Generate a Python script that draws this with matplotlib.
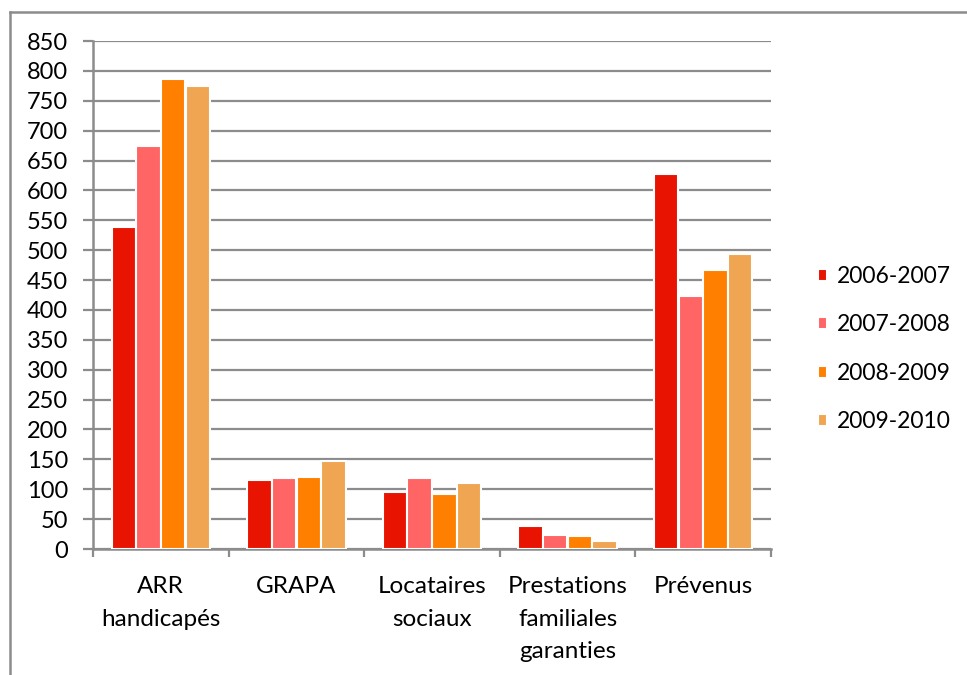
import numpy as np
import matplotlib
matplotlib.use("Agg")
import matplotlib.pyplot as plt
from matplotlib.lines import Line2D

plt.rcParams['font.family'] = ['Lato', 'DejaVu Sans']

categories = ["ARR\nhandicapés", "GRAPA", "Locataires\nsociaux",
              "Prestations\nfamiliales\ngaranties", "Prévenus"]
years = ["2006-2007", "2007-2008", "2008-2009", "2009-2010"]
values = {
    "2006-2007": [539, 115, 96, 39, 628],
    "2007-2008": [674, 118, 118, 24, 424],
    "2008-2009": [787, 120, 92, 21, 466],
    "2009-2010": [775, 148, 110, 13, 493],
}
colors = ["#E81300", "#FF6565", "#FF8000", "#F0A552"]
yticks = list(range(0, 851, 50))

W, H = 967, 675
fig = plt.figure(figsize=(W / 100, H / 100), dpi=100)
ax = fig.add_axes([93 / W, 1 - 549 / H, (771 - 93) / W, (549 - 41) / H])

x = np.arange(len(categories))
step = 0.182
width = 0.18
for i, (yr, c) in enumerate(zip(years, colors)):
    ax.bar(x + (i - 1.5) * step, values[yr], width=width, color=c,
           edgecolor="white", linewidth=1.5, label=yr, zorder=3)

grey = "#8C8C8C"
ax.set_xlim(-0.5, len(categories) - 0.5)
ax.set_ylim(0, 850)
ax.set_yticks(yticks)
ax.yaxis.grid(True, color=grey, linewidth=1.6, zorder=0)
ax.set_axisbelow(True)

ax.set_xticks(x)
ax.set_xticklabels(categories)
for t in ax.get_xticklabels():
    t.set_linespacing(1.68)
ax.set_xticks(np.arange(-0.5, len(categories)), minor=True)
ax.tick_params(axis="x", which="major", length=0, pad=19.5, labelsize=17.5)
ax.tick_params(axis="x", which="minor", length=6, width=1.6, color=grey, direction="out")
ax.tick_params(axis="y", length=7, width=1.6, color=grey, labelsize=17, pad=11)

for s in ["top", "right"]:
    ax.spines[s].set_visible(False)
for s in ["left", "bottom"]:
    ax.spines[s].set_color(grey)
    ax.spines[s].set_linewidth(1.8)

leg = fig.legend(loc="center left", bbox_to_anchor=(797 / W, 1 - 349 / H),
                 frameon=False, fontsize=16.5, handlelength=0.43,
                 handleheight=0.43, handletextpad=0.42, labelspacing=1.2)

# outer chart frame (top and left edges visible)
fig.add_artist(Line2D([10 / W, 1], [1 - 12 / H, 1 - 12 / H], color=grey,
                      linewidth=1.8, transform=fig.transFigure))
fig.add_artist(Line2D([10 / W, 10 / W], [0, 1 - 12 / H], color=grey,
                      linewidth=1.8, transform=fig.transFigure))

fig.savefig("out.png", dpi=100)
